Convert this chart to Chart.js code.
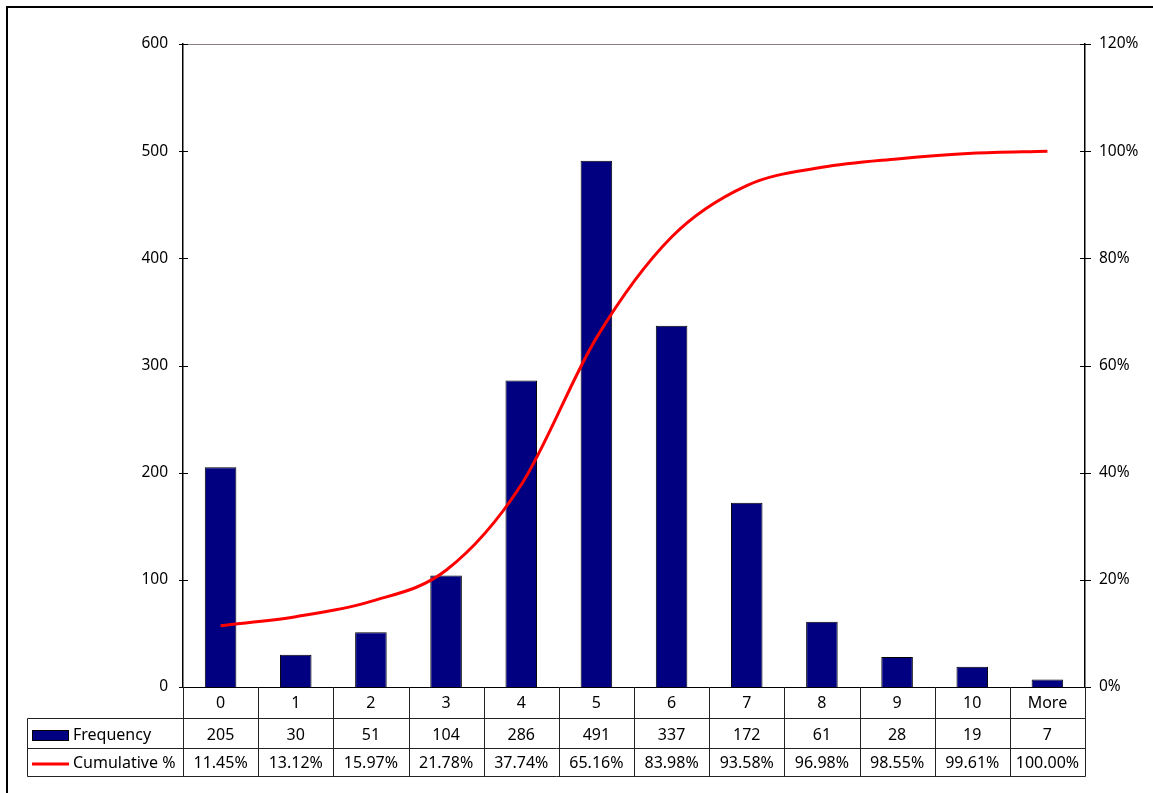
<!DOCTYPE html>
<html>
<head>
<meta charset="utf-8">
<title>Frequency histogram with cumulative %</title>
<script src="https://cdn.jsdelivr.net/npm/chart.js@4.4.1/dist/chart.umd.min.js"></script>
<style>
  html, body { margin: 0; padding: 0; background: #fff; }
  #wrap { position: relative; width: 1153px; height: 793px; }
  canvas { display: block; }
</style>
</head>
<body>
<div id="wrap"><canvas id="chart" width="1153" height="793"></canvas></div>
<script>
// Bins, counts per bin and running cumulative share
const categories = ['0', '1', '2', '3', '4', '5', '6', '7', '8', '9', '10', 'More'];
const frequency = [205, 30, 51, 104, 286, 491, 337, 172, 61, 28, 19, 7];
const cumulativePct = [11.45, 13.12, 15.97, 21.78, 37.74, 65.16, 83.98, 93.58, 96.98, 98.55, 99.61, 100.00];

// Axis tick values
const countTicks = [0, 100, 200, 300, 400, 500, 600];
const pctTicks = [0, 20, 40, 60, 80, 100, 120];

// Legend/row names for the data table
const seriesNames = ['Frequency', 'Cumulative %'];

const FONT = '"Noto Sans", "DejaVu Sans", sans-serif';
const NAVY = '#000080';
const RED = '#ff0000';

// Draws the outer frame, cross ticks, plot border and the data table beneath the plot
const tablePlugin = {
  id: 'dataTable',
  beforeDraw(chart) {
    const ctx = chart.ctx;
    ctx.save();
    ctx.fillStyle = '#000';
    ctx.fillRect(6, 6, chart.width - 6, 2);
    ctx.fillRect(6, 6, 2, chart.height - 6);
    ctx.restore();
  },
  afterDraw(chart) {
    const ctx = chart.ctx;
    const { left, right, top, bottom } = chart.chartArea;
    const x = chart.scales.x, y = chart.scales.y, y2 = chart.scales.y2;
    const n = categories.length;
    const cw = (right - left) / n;

    ctx.save();
    // plot area top border
    ctx.strokeStyle = '#8a8080';
    ctx.lineWidth = 1;
    ctx.beginPath();
    ctx.moveTo(left, top + 0.5);
    ctx.lineTo(right, top + 0.5);
    ctx.stroke();

    // cross tick marks on both value axes
    ctx.strokeStyle = '#000';
    ctx.beginPath();
    countTicks.forEach(v => {
      const py = Math.round(y.getPixelForValue(v)) + 0.5;
      ctx.moveTo(left - 4, py); ctx.lineTo(left + 5, py);
    });
    pctTicks.forEach(v => {
      const py = Math.round(y2.getPixelForValue(v)) + 0.5;
      ctx.moveTo(right - 5, py); ctx.lineTo(right + 6, py);
    });
    ctx.stroke();

    // table grid
    const r0 = bottom, r1 = bottom + 31, r2 = bottom + 61, r3 = bottom + 89;
    const tableLeft = 27.5;
    ctx.strokeStyle = '#222';
    ctx.lineWidth = 1;
    ctx.beginPath();
    [r1, r2, r3].forEach(ry => {
      ctx.moveTo(tableLeft, ry + 0.5); ctx.lineTo(right + 0.5, ry + 0.5);
    });
    ctx.moveTo(tableLeft, r1 + 0.5); ctx.lineTo(tableLeft, r3 + 0.5);
    for (let i = 0; i <= n; i++) {
      const vx = Math.round(left + i * cw) + 0.5;
      ctx.moveTo(vx, r0); ctx.lineTo(vx, r3 + 0.5);
    }
    ctx.stroke();

    // table text
    ctx.fillStyle = '#000';
    ctx.font = '16px ' + FONT;
    ctx.textAlign = 'center';
    ctx.textBaseline = 'middle';
    categories.forEach((c, i) => {
      const cx = x.getPixelForValue(i);
      ctx.fillText(c, cx, (r0 + r1) / 2 + 1);
      ctx.fillText(String(frequency[i]), cx, (r1 + r2) / 2 + 2);
      ctx.fillText(cumulativePct[i].toFixed(2) + '%', cx, (r2 + r3) / 2 + 1);
    });

    // legend keys in the first column
    ctx.fillStyle = NAVY;
    ctx.fillRect(32, r1 + 12, 37, 11);
    ctx.strokeStyle = '#000';
    ctx.strokeRect(32.5, r1 + 12.5, 36, 10);
    ctx.strokeStyle = RED;
    ctx.lineWidth = 3;
    ctx.beginPath();
    ctx.moveTo(32, r2 + 16); ctx.lineTo(69, r2 + 16);
    ctx.stroke();

    ctx.fillStyle = '#000';
    ctx.textAlign = 'left';
    ctx.fillText(seriesNames[0], 73, (r1 + r2) / 2 + 2);
    ctx.fillText(seriesNames[1], 73, (r2 + r3) / 2 + 1);
    ctx.restore();
  }
};

new Chart(document.getElementById('chart'), {
  data: {
    labels: categories,
    datasets: [
      {
        type: 'line',
        label: seriesNames[1],
        data: cumulativePct,
        yAxisID: 'y2',
        borderColor: RED,
        borderWidth: 3,
        pointRadius: 0,
        cubicInterpolationMode: 'monotone',
        fill: false,
        order: 0
      },
      {
        type: 'bar',
        label: seriesNames[0],
        data: frequency,
        yAxisID: 'y',
        backgroundColor: NAVY,
        borderColor: '#000',
        borderWidth: 1,
        barPercentage: 0.42,
        categoryPercentage: 1,
        order: 1
      }
    ]
  },
  options: {
    responsive: false,
    animation: false,
    events: [],
    layout: { padding: { top: 44, left: 0, right: 0, bottom: 0 } },
    plugins: { legend: { display: false }, tooltip: { enabled: false } },
    scales: {
      x: {
        type: 'category',
        offset: true,
        grid: { display: false },
        ticks: { display: false },
        border: { display: true, color: '#000', width: 1 },
        afterFit(s) { s.height = 106; }
      },
      y: {
        position: 'left',
        min: 0, max: 600,
        afterBuildTicks(s) { s.ticks = countTicks.map(v => ({ value: v })); },
        grid: { display: false },
        border: { display: true, color: '#000', width: 1.5 },
        ticks: { color: '#000', padding: 7, font: { family: FONT, size: 15.5 } },
        afterFit(s) { s.width = 183; }
      },
      y2: {
        position: 'right',
        min: 0, max: 120,
        afterBuildTicks(s) { s.ticks = pctTicks.map(v => ({ value: v })); },
        grid: { display: false },
        border: { display: true, color: '#000', width: 1.5 },
        ticks: {
          color: '#000', padding: 6, font: { family: FONT, size: 15.5 },
          callback: v => v + '%'
        },
        afterFit(s) { s.width = 68; }
      }
    }
  },
  plugins: [tablePlugin]
});
</script>
</body>
</html>
